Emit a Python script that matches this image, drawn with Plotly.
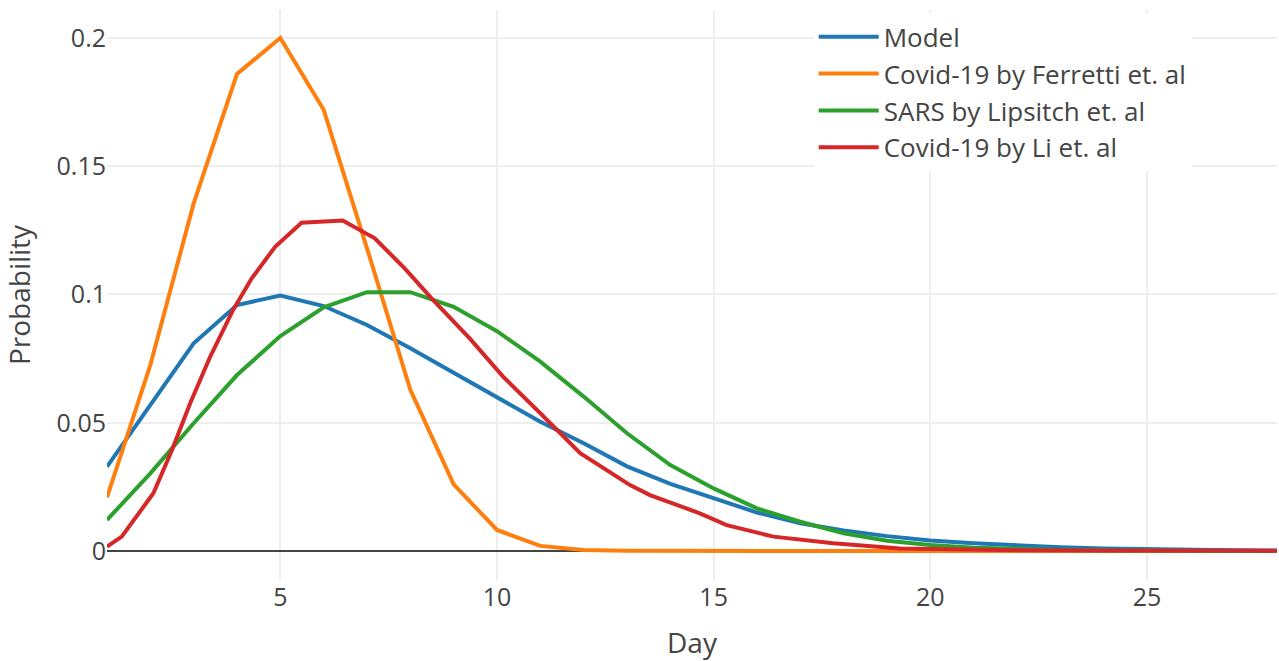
import plotly.graph_objects as go

days = list(range(1, 29))

model = [0.0329, 0.057, 0.081, 0.0959, 0.0996, 0.0955, 0.0881, 0.0790, 0.0695, 0.0597,
         0.0504, 0.0420, 0.0330, 0.0262, 0.0204, 0.0150, 0.0108, 0.0080, 0.0058, 0.0041,
         0.0030, 0.0021, 0.0015, 0.0010, 0.0007, 0.0005, 0.0003, 0.0002]

ferretti = [0.0209, 0.0725, 0.1355, 0.186, 0.200, 0.172, 0.118, 0.0628, 0.026, 0.0082,
            0.0020, 0.0004, 0.0001, 0, 0, 0, 0, 0, 0, 0, 0, 0, 0, 0, 0, 0, 0, 0]

sars = [0.0121, 0.0303, 0.0498, 0.0686, 0.0838, 0.0950, 0.1009, 0.1009, 0.0952, 0.0857,
        0.0738, 0.0602, 0.0459, 0.0335, 0.0244, 0.0166, 0.0114, 0.0069, 0.0040, 0.0023,
        0.0013, 0.0007, 0.0004, 0.0002, 0.0001, 0.0001, 0, 0]

li_days = [1, 1.34, 2.07, 2.5, 2.92, 3.38, 3.91, 4.34, 4.88, 5.49, 6.44, 7.18, 7.88, 8.49,
           9.37, 10.14, 11.0, 11.92, 13.07, 13.53, 14.68, 15.3, 16.38, 17.76, 19.3, 20.5,
           22, 24, 26, 28]
li = [0.0017, 0.0056, 0.0225, 0.0394, 0.0576, 0.0757, 0.094, 0.1063, 0.1186, 0.128, 0.1288,
      0.1219, 0.110, 0.0985, 0.0829, 0.068, 0.0537, 0.0381, 0.0257, 0.0218, 0.0147, 0.0101,
      0.0056, 0.0030, 0.0010, 0.0006, 0.0003, 0.0002, 0.0001, 0.0001]

names = ["Model", "Covid-19 by Ferretti et. al", "SARS by Lipsitch et. al", "Covid-19 by Li et. al"]
colors = ["#1f77b4", "#ff7f0e", "#2ca02c", "#d62728"]

fig = go.Figure()
series = [(days, model), (days, ferretti), (days, sars), (li_days, li)]
for (xs, ys), n, c in zip(series, names, colors):
    fig.add_trace(go.Scatter(x=xs, y=ys, mode="lines", name=n, line=dict(color=c, width=4)))

fig.update_layout(
    template="none",
    width=1279, height=661,
    margin=dict(l=107, r=2, t=10, b=81),
    font=dict(family="Open Sans", color="#444"),
    legend=dict(x=0.604, y=0.994, xanchor="left", yanchor="top", font=dict(size=26),
                bgcolor="white", itemwidth=60),
    xaxis=dict(range=[1, 28], title=dict(text="Day", font=dict(size=28)),
               tickfont=dict(size=25), gridwidth=2, zeroline=False, showline=False),
    yaxis=dict(range=[-0.0113, 0.2109],
               title=dict(text="Probability", font=dict(size=28), standoff=20),
               tickfont=dict(size=25), gridwidth=2, zeroline=True, zerolinewidth=2,
               zerolinecolor="#444", dtick=0.05),
)
fig.write_html("out.html")
